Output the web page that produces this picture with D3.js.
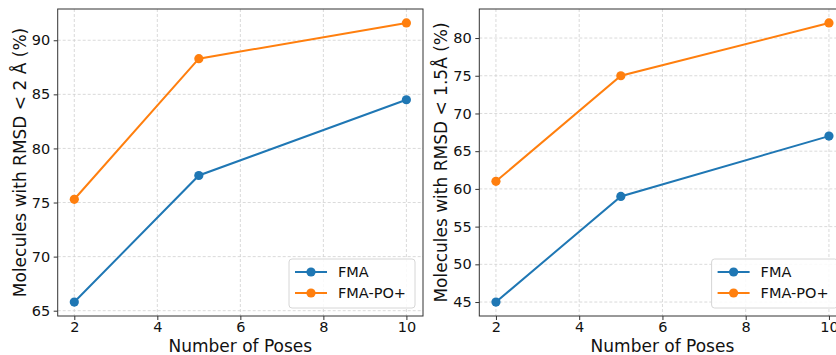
<!DOCTYPE html>
<html lang="en">
<head>
<meta charset="UTF-8">
<title>Molecules with RMSD vs Number of Poses</title>
<script src="https://d3js.org/d3.v7.min.js"></script>
<style>
  body { margin: 0; background: #fff; }
  svg { display: block; font-family: "DejaVu Sans", sans-serif; }
</style>
</head>
<body>
<div id="chart"></div>
<script>
// data
const poses = [2, 5, 10];
const seriesNames = ["FMA", "FMA-PO+"];
const fma2A = [65.8, 77.5, 84.5];
const fmaPo2A = [75.3, 88.3, 91.6];
const fma15A = [45, 59, 67];
const fmaPo15A = [61, 75, 82];
const xTicks = [2, 4, 6, 8, 10];
const yTicksLeft = [65, 70, 75, 80, 85, 90];
const yTicksRight = [45, 50, 55, 60, 65, 70, 75, 80];
const colors = ["#1f77b4", "#ff7f0e"];

const W = 836, H = 355;
const svg = d3.select("#chart").append("svg")
  .attr("width", W)
  .attr("height", H);

// draw one subplot
function drawPanel(left, right, ySeries, yTicks, yLabel) {
  const top = 9, bottom = 316;
  const all = ySeries.flat();
  const yMin = d3.min(all), yMax = d3.max(all);
  const pad = (yMax - yMin) * 0.05;

  const x = d3.scaleLinear().domain([1.6, 10.4]).range([left, right]);
  const y = d3.scaleLinear().domain([yMin - pad, yMax + pad]).range([bottom, top]);

  const g = svg.append("g");

  // grid
  g.append("g").selectAll("line")
    .data(xTicks).enter().append("line")
    .attr("x1", d => x(d)).attr("x2", d => x(d))
    .attr("y1", top).attr("y2", bottom)
    .attr("stroke", "#d0d0d0").attr("stroke-width", 0.8)
    .attr("stroke-dasharray", "3,2");
  g.append("g").selectAll("line")
    .data(yTicks).enter().append("line")
    .attr("x1", left).attr("x2", right)
    .attr("y1", d => y(d)).attr("y2", d => y(d))
    .attr("stroke", "#d0d0d0").attr("stroke-width", 0.8)
    .attr("stroke-dasharray", "3,2");

  // axes
  const xAxis = g.append("g")
    .attr("transform", `translate(0,${bottom})`)
    .call(d3.axisBottom(x).tickValues(xTicks).tickSizeOuter(0).tickSize(4).tickPadding(2));
  const yAxis = g.append("g")
    .attr("transform", `translate(${left},0)`)
    .call(d3.axisLeft(y).tickValues(yTicks).tickSizeOuter(0).tickSize(4).tickPadding(3.5));
  [xAxis, yAxis].forEach(a => {
    a.select(".domain").remove();
    a.selectAll("line").attr("stroke", "#333");
    a.selectAll("text").attr("font-size", 14.5).attr("fill", "#111")
      .attr("font-family", "DejaVu Sans, sans-serif");
  });

  // frame
  g.append("rect")
    .attr("x", left).attr("y", top)
    .attr("width", right - left).attr("height", bottom - top)
    .attr("fill", "none").attr("stroke", "#333").attr("stroke-width", 1);

  // lines + markers
  const line = d3.line().x((d, i) => x(poses[i])).y(d => y(d));
  ySeries.forEach((s, k) => {
    g.append("path").datum(s)
      .attr("d", line)
      .attr("fill", "none")
      .attr("stroke", colors[k])
      .attr("stroke-width", 2);
    g.append("g").selectAll("circle")
      .data(s).enter().append("circle")
      .attr("cx", (d, i) => x(poses[i]))
      .attr("cy", d => y(d))
      .attr("r", 4.6)
      .attr("fill", colors[k]);
  });

  // labels
  g.append("text")
    .attr("x", (left + right) / 2).attr("y", 351.5)
    .attr("text-anchor", "middle")
    .attr("font-size", 17).attr("fill", "#111")
    .text("Number of Poses");
  g.append("text")
    .attr("transform", `translate(${left - 38},${(top + bottom) / 2}) rotate(-90)`)
    .attr("text-anchor", "middle")
    .attr("dy", "0.35em")
    .attr("font-size", 17).attr("fill", "#111")
    .text(yLabel);

  // legend
  const lw = 126, lh = 49;
  const lx = right - 8 - lw, ly = bottom - 8 - lh;
  const leg = g.append("g").attr("transform", `translate(${lx},${ly})`);
  leg.append("rect")
    .attr("width", lw).attr("height", lh).attr("rx", 3)
    .attr("fill", "#fff").attr("fill-opacity", 0.85)
    .attr("stroke", "#d6d6d6");
  seriesNames.forEach((name, k) => {
    const ry = 13 + k * 21;
    leg.append("line")
      .attr("x1", 6).attr("x2", 38).attr("y1", ry).attr("y2", ry)
      .attr("stroke", colors[k]).attr("stroke-width", 2);
    leg.append("circle")
      .attr("cx", 22).attr("cy", ry).attr("r", 4.6).attr("fill", colors[k]);
    leg.append("text")
      .attr("x", 49).attr("y", ry).attr("dy", "0.35em")
      .attr("font-size", 14.5).attr("fill", "#111")
      .text(name);
  });
}

drawPanel(57.7, 423, [fma2A, fmaPo2A], yTicksLeft, "Molecules with RMSD < 2 Å (%)");
drawPanel(479.3, 845.6, [fma15A, fmaPo15A], yTicksRight, "Molecules with RMSD < 1.5Å (%)");
</script>
</body>
</html>
